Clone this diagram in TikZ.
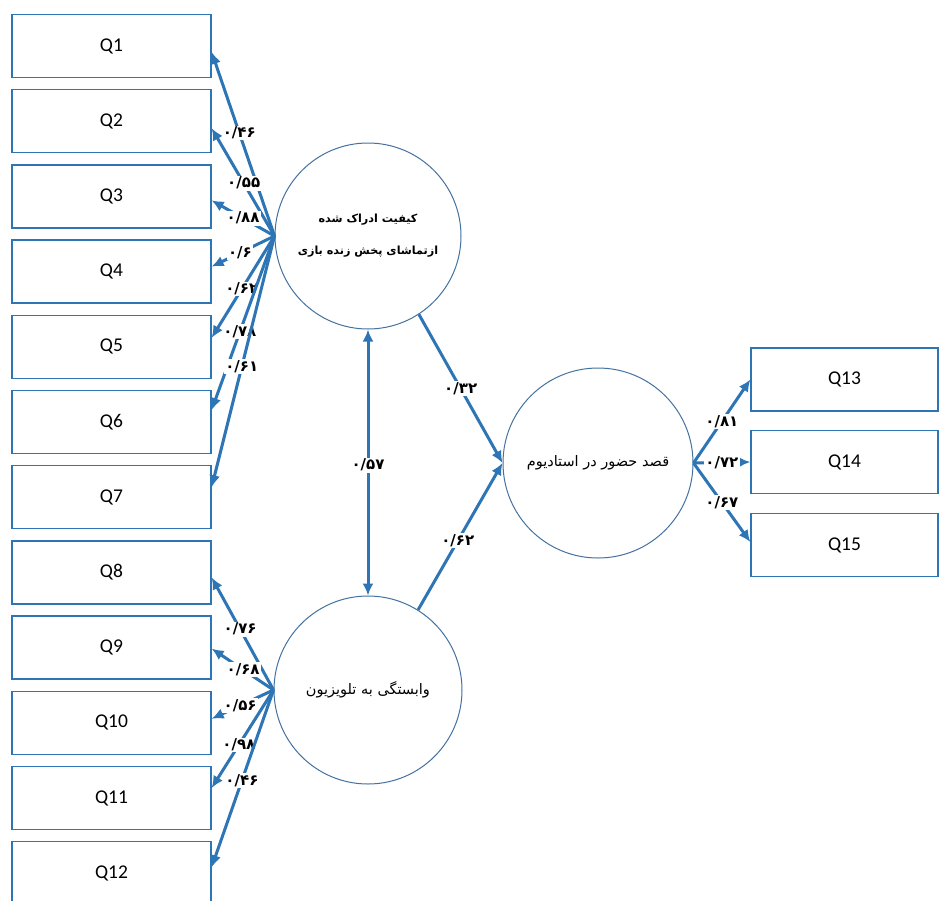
\documentclass[tikz,border=0pt]{standalone}
\usepackage{fontspec}
\setmainfont{Carlito}
\newfontfamily\fa[Script=Arabic]{DejaVu Sans}
\TeXXeTstate=1
\usetikzlibrary{arrows.meta,calc}

\definecolor{pathblue}{RGB}{46,117,182}
\definecolor{ringblue}{RGB}{68,114,160}

\begin{document}
\begin{tikzpicture}[x=1pt,y=-1pt,
  item/.style={draw=pathblue, line width=1.3pt, fill=white,
    minimum width=199pt, minimum height=63pt, inner sep=0pt,
    font=\fontsize{19.5}{20}\selectfont},
  ritem/.style={item, minimum width=187pt},
  latent/.style={circle, draw=ringblue, line width=1pt, fill=white,
    inner sep=0pt, align=center, font=\fa\fontsize{14.5}{30}\selectfont},
  path/.style={draw=pathblue, line width=3pt,
    -{Latex[length=12pt,width=11pt]}},
  both/.style={path, {Latex[length=12pt,width=11pt]}-{Latex[length=12pt,width=11pt]}},
  coef/.style={fill=white, inner sep=1.2pt, text=black,
    font=\fa\bfseries\fontsize{15}{16}\selectfont}
]
\clip (0,0) rectangle (940,900);
\fill[white] (0,0) rectangle (940,900);

% indicator boxes, left column
\foreach \i in {1,...,12}{
  \node[item] (q\i) at (111.5,{46+75.2*(\i-1)}) {Q\i};
}
% indicator boxes, right column
\node[ritem] (q13) at (844.5,379.5) {Q13};
\node[ritem] (q14) at (844.5,462) {Q14};
\node[ritem] (q15) at (844.5,545) {Q15};

% latent variables
\node[latent, minimum size=186pt, font=\fa\bfseries\fontsize{11.2}{30}\selectfont] (c1) at (368,236)
  {\beginR کیفیت ادراک شده\endR\\[2pt]\beginR ازتماشای پخش زنده بازی\endR};
\node[latent, minimum size=188pt] (c2) at (368,690)
  {\beginR وابستگی به تلویزیون\endR};
\node[latent, minimum size=190pt] (c3) at (598,463)
  {\beginR قصد حضور در استادیوم\endR};

% loadings of the first construct
\draw[path] (c1.west) -- node[coef,pos=0.56]{۰/۴۶} ($(q1.east)+(0,6)$);
\draw[path] (c1.west) -- node[coef,pos=0.49]{۰/۵۵} ($(q2.east)+(0,7)$);
\draw[path] (c1.west) -- node[coef,pos=0.5]{۰/۸۸} ($(q3.east)+(0,4)$);
\draw[path] (c1.west) -- node[coef,pos=0.55]{۰/۶} ($(q4.east)+(0,-5)$);
\draw[path] (c1.west) -- node[coef,pos=0.52]{۰/۶۲} ($(q5.east)+(0,-9)$);
\draw[path] (c1.west) -- node[coef,pos=0.55]{۰/۷۸} ($(q6.east)+(0,-12)$);
\draw[path] (c1.west) -- node[coef,pos=0.52]{۰/۶۱} ($(q7.east)+(0,-10)$);

% loadings of the second construct
\draw[path] (c2.west) -- node[coef,pos=0.54]{۰/۷۶} ($(q8.east)+(0,5)$);
\draw[path] (c2.west) -- node[coef,pos=0.49]{۰/۶۸} ($(q9.east)+(0,1)$);
\draw[path] (c2.west) -- node[coef,pos=0.54]{۰/۵۶} ($(q10.east)+(0,-4)$);
\draw[path] (c2.west) -- node[coef,pos=0.56]{۰/۹۸} ($(q11.east)+(0,-10)$);
\draw[path] (c2.west) -- node[coef,pos=0.51]{۰/۴۶} ($(q12.east)+(0,-6)$);

% structural paths
\draw[path] (c1.-57) -- node[coef,pos=0.5]{۰/۳۲} (c3.west);
\draw[path] (c2.58) -- node[coef,pos=0.47]{۰/۶۲} (c3.west);
\draw[both] (c1.south) -- node[coef,pos=0.51]{۰/۵۷} (c2.north);

% loadings of the outcome construct
\draw[path] (c3.east) -- node[coef,pos=0.5]{۰/۸۱} (q13.west);
\draw[path] (c3.east) -- node[coef,pos=0.5]{۰/۷۲} (q14.west);
\draw[path] (c3.east) -- node[coef,pos=0.5]{۰/۶۷} ($(q15.west)+(0,-3)$);
\end{tikzpicture}
\end{document}
